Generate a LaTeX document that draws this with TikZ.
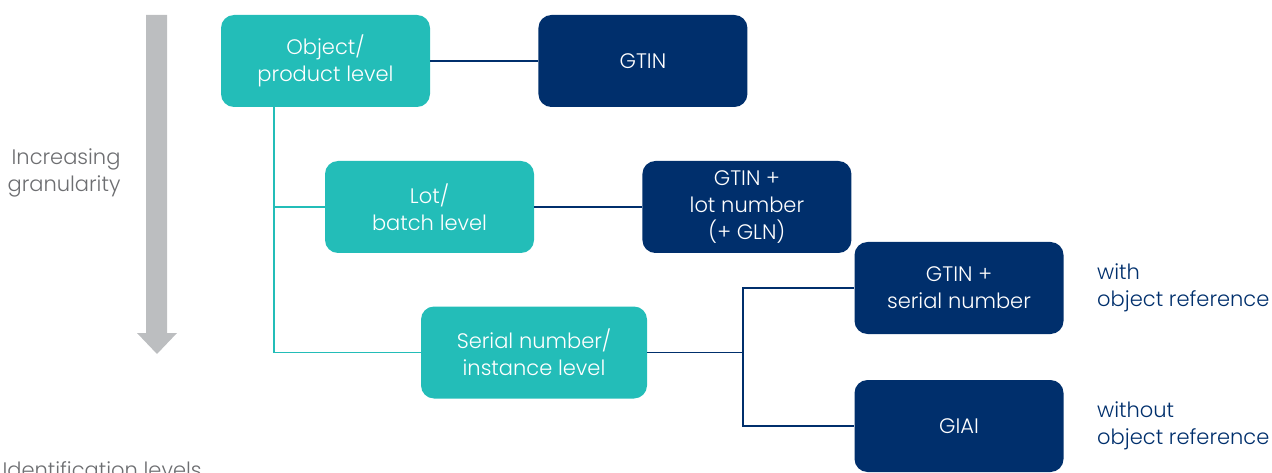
\documentclass[tikz,border=0pt]{standalone}
\usepackage{fontspec}
\setmainfont{Poppins}[UprightFont=* Light]
\usepackage{xcolor}
\usetikzlibrary{positioning,calc}

\definecolor{idteal}{HTML}{23BDB8}
\definecolor{idnavy}{HTML}{002F6C}
\definecolor{idgrey}{HTML}{BCBEC0}
\definecolor{idtext}{HTML}{6D6E71}

\begin{document}
\begin{tikzpicture}[x=1pt,y=-1pt,
  txt/.style={font=\fontsize{21}{27}\selectfont},
  levelbox/.style={txt,fill=idteal,text=white,rounded corners=13pt,
    minimum width=209pt,minimum height=92pt,align=center,inner sep=0pt},
  keybox/.style={levelbox,fill=idnavy},
  note/.style={txt,text=idnavy,align=left,anchor=west},
  tealline/.style={draw=idteal,line width=1.8pt},
  navyline/.style={draw=idnavy,line width=1.8pt}]
  \useasboundingbox (0,0) rectangle (1272,473);

  % granularity arrow
  \fill[idgrey] (146,15) -- (167,15) -- (167,333) -- (177,333) -- (157,354)
    -- (137,333) -- (146,333) -- cycle;
  \node[txt,text=idtext,align=right,anchor=east] (gran) at (124,173) {Increasing\\granularity};
  \node[txt,text=idtext,anchor=base west] (idlev) at (-1,477) {Identification levels};

  \node[levelbox] (obj) at (325.5,61) {Object/\\product level};
  \node[keybox,right=108pt of obj] (gtin) {GTIN};
  \node[levelbox] (lot) at (429.5,207) {Lot/\\batch level};
  \node[keybox,right=108pt of lot] (gtinlot) {GTIN +\\lot number\\(+ GLN)};
  \node[levelbox,minimum width=226pt] (serial) at (534,352.5) {Serial number/\\instance level};
  \node[keybox] (gtinser) at (959,288) {GTIN +\\serial number};
  \node[keybox] (giai) at (959,426) {GIAI};

  \node[note,right=30pt of gtinser] (withref) {with\\object reference};
  \node[note,right=30pt of giai] (withoutref) {without\\object reference};

  \coordinate (trunk) at (274,107);
  \coordinate (fork) at (743,352.5);

  \draw[tealline] (trunk) |- (lot.west);
  \draw[tealline] (trunk) |- (serial.west);

  \draw[navyline] (obj) -- (gtin);
  \draw[navyline] (lot) -- (gtinlot);
  \draw[navyline] (serial.east) -- (fork);
  \draw[navyline] (fork) |- (gtinser.west);
  \draw[navyline] (fork) |- (giai.west);
\end{tikzpicture}
\end{document}
